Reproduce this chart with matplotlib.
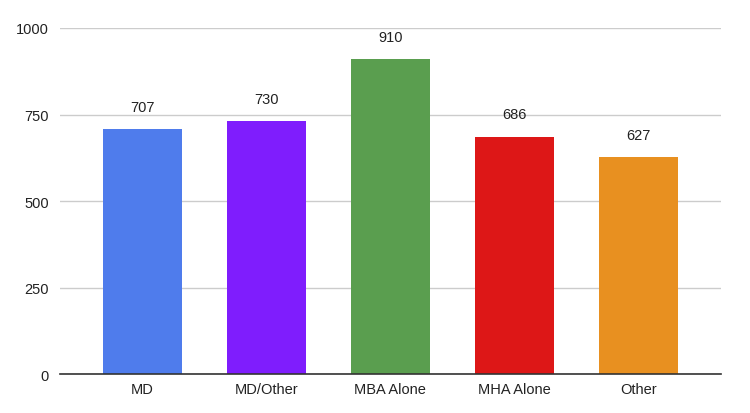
import matplotlib.pyplot as plt
import numpy as np

plt.rcParams['font.family'] = ['Liberation Sans', 'DejaVu Sans']

categories = ["MD", "MD/Other", "MBA Alone", "MHA Alone", "Other"]
values = [707, 730, 910, 686, 627]
colors = ["#4f7cec", "#7f1dfd", "#5a9e4f", "#dd1717", "#e89020"]
yticks = [0, 250, 500, 750, 1000]

fig = plt.figure(figsize=(7.5, 4.14), dpi=100)
ax = fig.add_axes([0.08, 0.094, 0.881, 0.836])

x = np.arange(len(categories))
bars = ax.bar(x, values, width=0.64, color=colors, zorder=3)
for xi, v in zip(x, values):
    ax.annotate(str(v), (xi, v), xytext=(0, 11), textcoords="offset points",
                ha="center", va="bottom", fontsize=10.5, color="#222222")

ax.set_xlim(-0.665, 4.665)
ax.set_ylim(0, 1000)
ax.set_yticks(yticks)
ax.set_xticks(x)
ax.set_xticklabels(categories)
ax.tick_params(axis="both", length=0, labelsize=10.5, colors="#222222")
ax.tick_params(axis="y", pad=8)
ax.tick_params(axis="x", pad=6)
ax.yaxis.grid(True, color="#cccccc", linewidth=1, zorder=0)
for s in ["top", "right", "left"]:
    ax.spines[s].set_visible(False)
ax.spines["bottom"].set_color("#333333")
ax.spines["bottom"].set_linewidth(1.2)
ax.spines["bottom"].set_zorder(4)

fig.savefig("out.png", dpi=100)
